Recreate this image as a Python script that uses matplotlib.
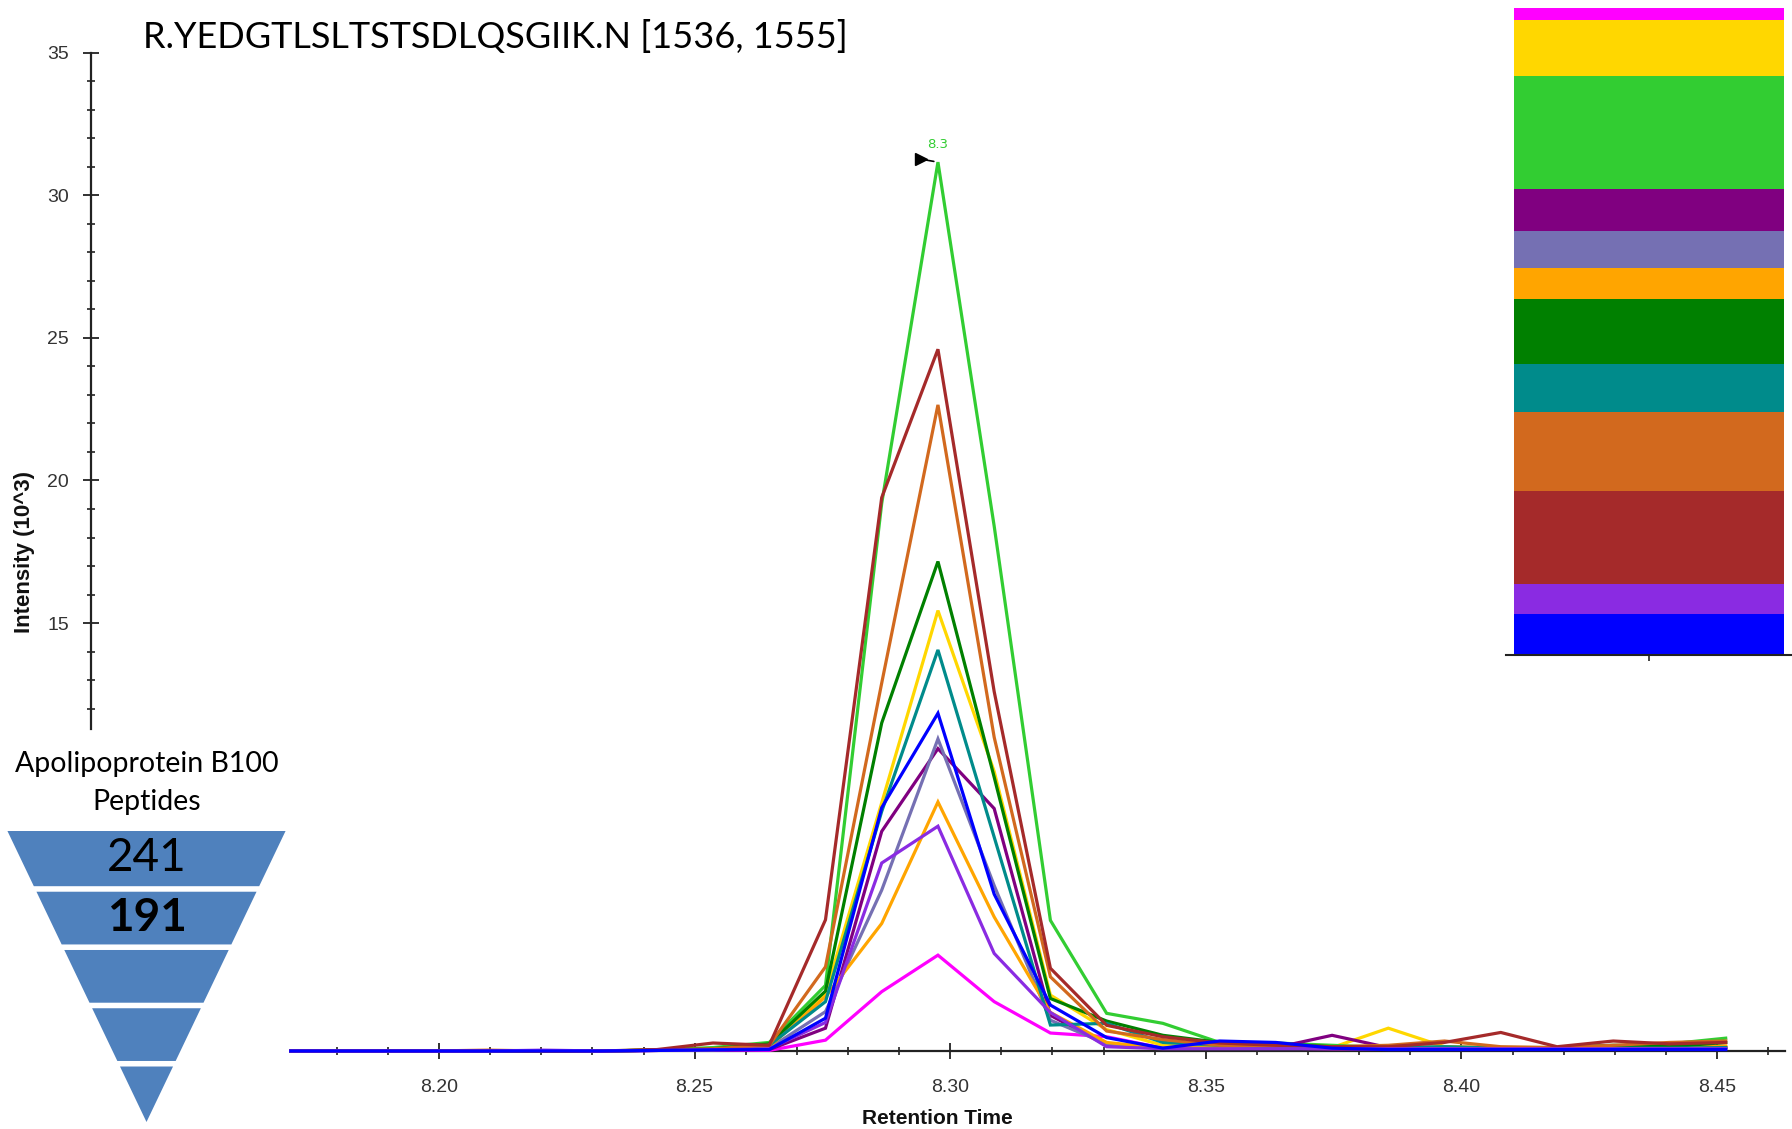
import matplotlib
matplotlib.use("Agg")
import matplotlib.pyplot as plt
from matplotlib.patches import Polygon
from matplotlib.transforms import offset_copy

# ---------------- data ----------------
title = "R.YEDGTLSLTSTSDLQSGIIK.N [1536, 1555]"
x_label = "Retention Time"
y_label = "Intensity (10^3)"

retention_time = [8.171, 8.1765, 8.1875, 8.1985, 8.2095, 8.2205, 8.2315, 8.2426,
                  8.2536, 8.2646, 8.2756, 8.2866, 8.2976, 8.3086, 8.3196, 8.3306,
                  8.3416, 8.3527, 8.3637, 8.3747, 8.3857, 8.3967, 8.4077, 8.4187,
                  8.4297, 8.4407, 8.4517]

series_names = ["magenta", "gold", "limegreen", "purple", "slateblue", "orange",
                "green", "teal", "chocolate", "brown", "blueviolet", "blue"]
series_colors = ["#FF00FF", "#FFD700", "#32CD32", "#800080", "#7570B3", "#FFA500",
                 "#008000", "#008B8B", "#D2691E", "#A52A2A", "#8A2BE2", "#0000FF"]

magenta    = [0.0, 0.0, 0.0, 0.0, 0.0, 0.0, 0.0, 0.02, 0.03, 0.02, 0.38, 2.08, 3.36, 1.73, 0.63, 0.50, 0.10, 0.12, 0.10, 0.08, 0.08, 0.08, 0.08, 0.08, 0.08, 0.08, 0.10]
gold       = [0.0, 0.0, 0.0, 0.0, 0.0, 0.0, 0.0, 0.03, 0.05, 0.20, 2.00, 8.70, 15.44, 9.80, 1.96, 0.75, 0.20, 0.15, 0.15, 0.12, 0.80, 0.15, 0.10, 0.10, 0.10, 0.12, 0.15]
limegreen  = [0.0, 0.0, 0.0, 0.0, 0.0, 0.0, 0.0, 0.04, 0.12, 0.30, 2.30, 19.20, 31.16, 18.40, 4.58, 1.32, 0.97, 0.30, 0.28, 0.20, 0.12, 0.12, 0.12, 0.12, 0.15, 0.25, 0.45]
purple     = [0.0, 0.0, 0.0, 0.0, 0.0, 0.0, 0.0, 0.02, 0.04, 0.05, 0.80, 7.70, 10.60, 8.50, 1.25, 0.20, 0.10, 0.10, 0.12, 0.55, 0.12, 0.10, 0.10, 0.10, 0.10, 0.10, 0.12]
slateblue  = [0.0, 0.0, 0.0, 0.0, 0.0, 0.0, 0.0, 0.02, 0.04, 0.10, 1.38, 5.64, 10.94, 5.80, 1.08, 0.25, 0.10, 0.12, 0.12, 0.10, 0.10, 0.10, 0.10, 0.10, 0.10, 0.10, 0.12]
orange     = [0.0, 0.0, 0.0, 0.0, 0.0, 0.0, 0.0, 0.03, 0.05, 0.15, 1.90, 4.47, 8.73, 4.70, 1.35, 0.30, 0.10, 0.12, 0.12, 0.10, 0.12, 0.15, 0.12, 0.10, 0.12, 0.15, 0.18]
green      = [0.0, 0.0, 0.0, 0.0, 0.0, 0.0, 0.0, 0.03, 0.08, 0.25, 2.10, 11.50, 17.16, 9.60, 1.84, 1.05, 0.55, 0.30, 0.25, 0.15, 0.12, 0.12, 0.12, 0.12, 0.20, 0.15, 0.30]
teal       = [0.0, 0.0, 0.0, 0.0, 0.0, 0.0, 0.0, 0.03, 0.05, 0.20, 1.73, 8.40, 14.06, 7.50, 0.91, 0.97, 0.30, 0.20, 0.15, 0.12, 0.12, 0.15, 0.10, 0.10, 0.10, 0.10, 0.12]
chocolate  = [0.0, 0.0, 0.0, 0.0, 0.03, 0.0, 0.0, 0.03, 0.08, 0.20, 2.95, 12.90, 22.65, 11.00, 2.60, 0.70, 0.40, 0.20, 0.18, 0.15, 0.20, 0.35, 0.15, 0.12, 0.20, 0.30, 0.35]
brown      = [0.0, 0.0, 0.0, 0.0, 0.0, 0.0, 0.0, 0.05, 0.28, 0.20, 4.60, 19.40, 24.60, 12.60, 2.90, 0.90, 0.50, 0.28, 0.20, 0.15, 0.15, 0.30, 0.65, 0.15, 0.35, 0.25, 0.30]
blueviolet = [0.0, 0.0, 0.0, 0.0, 0.0, 0.03, 0.0, 0.02, 0.04, 0.08, 1.00, 6.59, 7.88, 3.42, 1.35, 0.15, 0.08, 0.08, 0.08, 0.08, 0.08, 0.08, 0.08, 0.08, 0.08, 0.08, 0.08]
blue       = [0.0, 0.0, 0.0, 0.0, 0.0, 0.0, 0.0, 0.02, 0.04, 0.05, 1.15, 8.53, 11.84, 5.50, 1.61, 0.47, 0.10, 0.35, 0.30, 0.10, 0.05, 0.05, 0.05, 0.05, 0.05, 0.05, 0.05]

series_values = [magenta, gold, limegreen, purple, slateblue, orange,
                 green, teal, chocolate, brown, blueviolet, blue]

peak_label = "8.3"

x_ticks = [8.20, 8.25, 8.30, 8.35, 8.40, 8.45]
x_minor_ticks = [8.18, 8.19, 8.21, 8.22, 8.23, 8.24, 8.26, 8.27, 8.28, 8.29, 8.31,
                 8.32, 8.33, 8.34, 8.36, 8.37, 8.38, 8.39, 8.41, 8.42, 8.43, 8.44, 8.46]
y_ticks = [15, 20, 25, 30, 35]
y_minor_ticks = [12, 13, 14, 16, 17, 18, 19, 21, 22, 23, 24, 26, 27, 28, 29, 31, 32, 33, 34]

# stacked area bar (bottom -> top)
bar_order = ["blue", "blueviolet", "brown", "chocolate", "teal", "green",
             "orange", "slateblue", "purple", "limegreen", "gold", "magenta"]
bar_values = [41.0, 29.5, 93.5, 79.0, 47.0, 65.0, 31.0, 37.0, 42.5, 112.0, 56.0, 12.5]

# funnel
funnel_title = ["Apolipoprotein B100", "Peptides"]
funnel_labels = ["241", "191", "", "", ""]
funnel_weights = ["normal", "bold", "normal", "normal", "normal"]
funnel_color = "#4F81BD"

# ---------------- figure ----------------
W, H = 1792, 1129
fig = plt.figure(figsize=(W / 100, H / 100), dpi=100)
fig.patch.set_facecolor("white")

def fx(px):
    return px / W

def fy(py):
    return 1 - py / H

# main chromatogram axes
ax = fig.add_axes([fx(91), fy(1051), fx(1785) - fx(91), fy(52.6) - fy(1051)])
ax.set_xlim(8.13192, 8.4633)
ax.set_ylim(0, 35)
for sp in ["top", "right"]:
    ax.spines[sp].set_visible(False)
ax.spines["left"].set_bounds(11.3, 35)
ax.spines["bottom"].set_bounds(8.171, 8.4633)
for sp in ["left", "bottom"]:
    ax.spines[sp].set_color("#222222")
    ax.spines[sp].set_linewidth(1.6)

for name, col, vals in zip(series_names, series_colors, series_values):
    ax.plot(retention_time, vals, color=col, lw=2.3, clip_on=False,
            solid_joinstyle="miter", zorder=3)

ax.set_xticks(x_ticks)
ax.set_xticklabels([f"{t:.2f}" for t in x_ticks])
ax.set_xticks(x_minor_ticks, minor=True)
ax.set_yticks(y_ticks)
ax.set_yticklabels([str(t) for t in y_ticks])
ax.set_yticks(y_minor_ticks, minor=True)
ax.tick_params(which="major", direction="inout", length=12, width=1.3,
               color="#222222", labelsize=14, labelcolor="#333333")
ax.tick_params(which="minor", direction="inout", length=6, width=1.2, color="#222222")
ax.tick_params(axis="x", which="major", pad=14)
ax.tick_params(axis="y", which="major", pad=10)
for lab in ax.get_xticklabels() + ax.get_yticklabels():
    lab.set_fontfamily(["Liberation Sans", "DejaVu Sans"])

ax.set_xlabel(x_label, fontsize=15, fontweight="bold",
              fontfamily=["Liberation Sans", "DejaVu Sans"], color="#111111")
ax.xaxis.set_label_coords(0.4994, -0.058)
ax.set_ylabel(y_label, fontsize=16, fontweight="bold",
              fontfamily=["Liberation Sans", "DejaVu Sans"], color="#111111")
ax.yaxis.set_label_coords(-0.033, 0.5)

# peak annotation on the tallest trace
imax = max(range(len(series_values)), key=lambda i: max(series_values[i]))
pk_vals = series_values[imax]
pk_i = pk_vals.index(max(pk_vals))
xpk, ypk = retention_time[pk_i], pk_vals[pk_i]
ax.annotate(peak_label, xy=(xpk, ypk), xytext=(0, 13), textcoords="offset points",
            ha="center", va="center", fontsize=9.5, color="#32CD32",
            fontfamily=["DejaVu Sans"], zorder=5)
tr = offset_copy(ax.transData, fig=fig, x=-17, y=3, units="dots")
ax.plot([xpk], [ypk], marker=">", color="black", ms=9, transform=tr,
        clip_on=False, zorder=6)
ax.annotate("", xy=(xpk, ypk), xytext=(-17, 3), textcoords="offset pixels",
            arrowprops=dict(arrowstyle="-", lw=1.2, color="black",
                            shrinkA=0, shrinkB=3), zorder=6)

# title
fig.text(fx(143), fy(48), title, fontsize=26, fontfamily=["Lato", "DejaVu Sans"],
         ha="left", va="baseline", color="black")

# ---------------- stacked bar (top right) ----------------
ax2 = fig.add_axes([fx(1506), fy(655), fx(1792) - fx(1506), fy(7.8) - fy(655)])
ax2.patch.set_alpha(0)
col_map = dict(zip(series_names, series_colors))
bottom = 0.0
for name, v in zip(bar_order, bar_values):
    ax2.bar([0], [v], bottom=bottom, width=0.942, color=col_map[name],
            edgecolor="none", linewidth=0)
    bottom += v
ax2.set_xlim(-0.5, 0.5)
ax2.set_ylim(0, sum(bar_values))
for sp in ["top", "right", "left"]:
    ax2.spines[sp].set_visible(False)
ax2.spines["bottom"].set_color("#222222")
ax2.spines["bottom"].set_linewidth(1.5)
ax2.set_yticks([])
ax2.set_xticks([0])
ax2.set_xticklabels([""])
ax2.tick_params(axis="x", direction="out", length=4, width=1.2, color="#222222")

# ---------------- funnel (bottom left) ----------------
ax3 = fig.add_axes([fx(7.3), fy(1122), fx(285.7) - fx(7.3), fy(830.7) - fy(1122)])
ax3.set_xlim(-0.5, 0.5)
n = len(funnel_labels)
ax3.set_ylim(0, n)
ax3.axis("off")
gap = 0.095
for i, (lab, wt) in enumerate(zip(funnel_labels, funnel_weights)):
    y_top = n - i - (0 if i == 0 else gap / 2)
    y_bot = n - i - 1 + (0 if i == n - 1 else gap / 2)
    ht = 0.5 * y_top / n
    hb = 0.5 * y_bot / n
    ax3.add_patch(Polygon([(-ht, y_top), (ht, y_top), (hb, y_bot), (-hb, y_bot)],
                          closed=True, facecolor=funnel_color, edgecolor="none"))
    if lab:
        ax3.text(0, (y_top + y_bot) / 2, lab, ha="center", va="center",
                 fontsize=33, fontweight=wt, color="black",
                 fontfamily=["Lato", "DejaVu Sans"])

fig.text(fx(146.5), fy(771.7), funnel_title[0], ha="center", va="baseline",
         fontsize=20.5, fontfamily=["Lato", "DejaVu Sans"], color="black")
fig.text(fx(146.5), fy(810), funnel_title[1], ha="center", va="baseline",
         fontsize=20.5, fontfamily=["Lato", "DejaVu Sans"], color="black")

fig.savefig("out.png", dpi=100, facecolor="white")
